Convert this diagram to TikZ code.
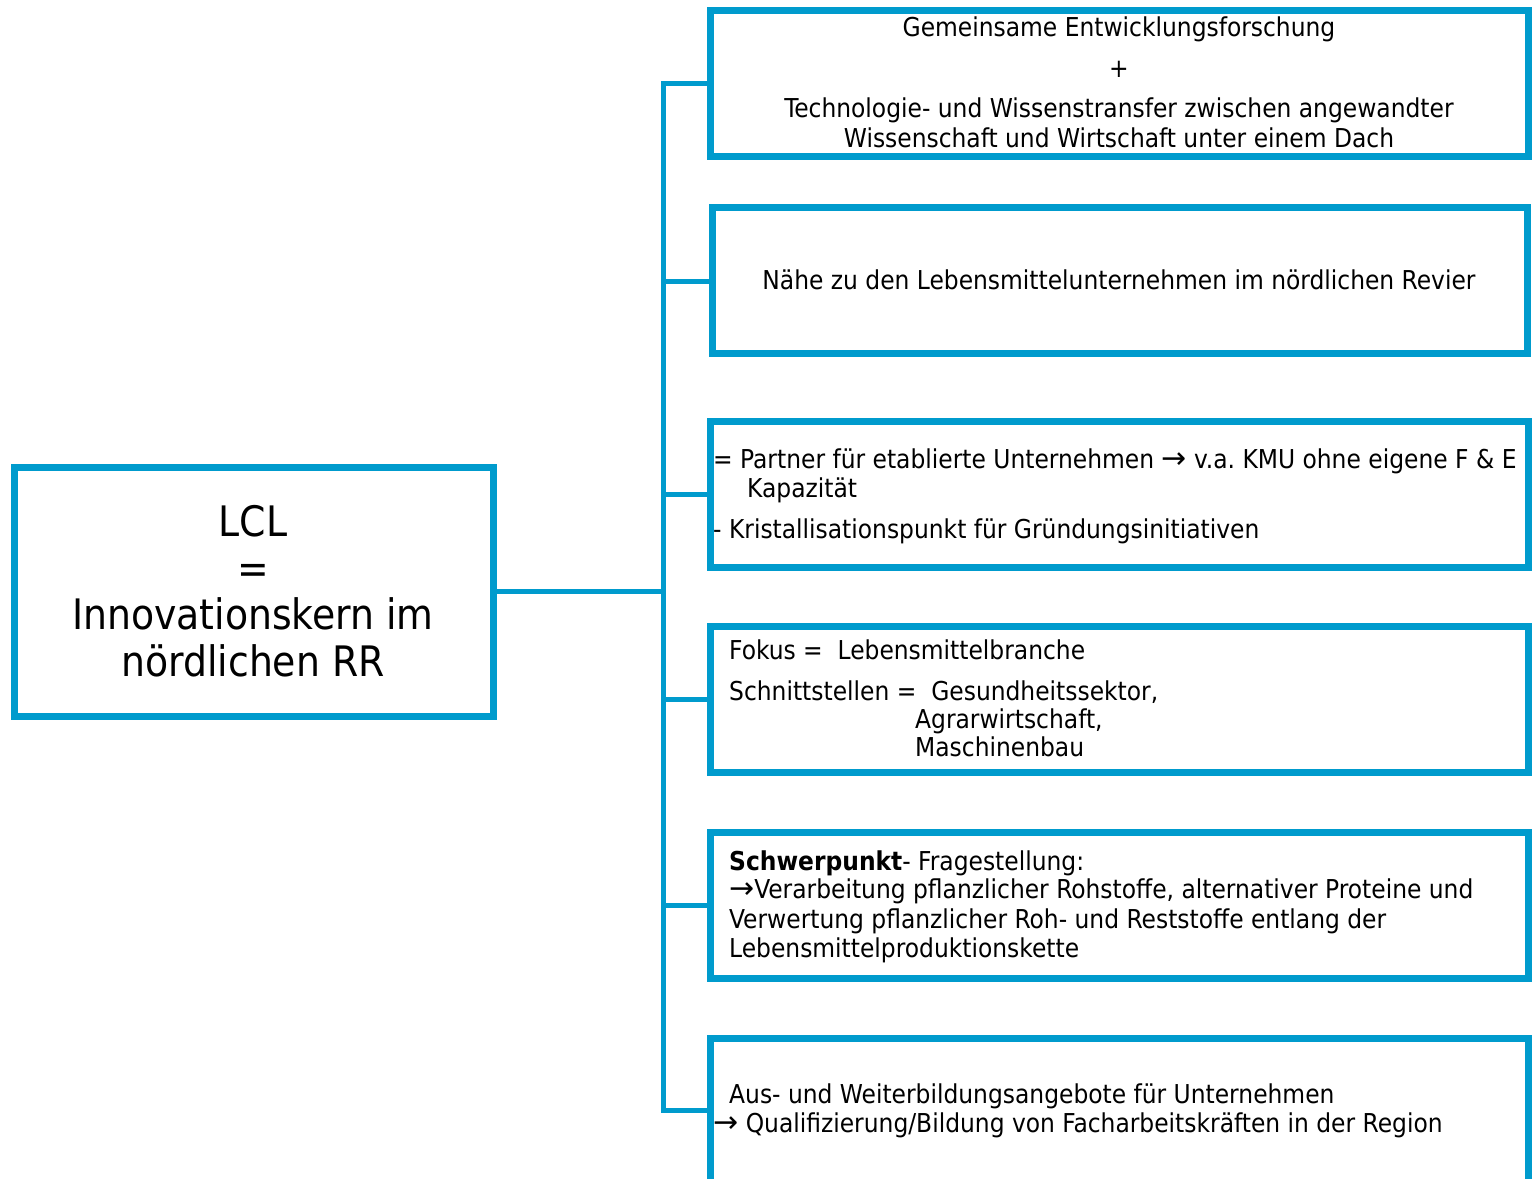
\documentclass[tikz,border=0pt]{standalone}
\usepackage{fontspec}
\setmainfont{DejaVu Sans Condensed}[BoldFont={DejaVu Sans Condensed Bold}]
\newfontfamily\arrowfont{DejaVu Sans}
\newcommand{\rarr}{{\arrowfont\fontsize{30}{30}\selectfont →}}
\definecolor{lclblue}{RGB}{0,155,205}
\frenchspacing
\begin{document}
\begin{tikzpicture}[x=1pt,y=-1pt,
  box/.style={draw=lclblue,line width=7pt,rectangle,inner sep=0pt},
  conn/.style={draw=lclblue,line width=5pt},
  txt/.style={inner sep=0pt,font=\fontsize{26}{30}\selectfont},
  txtl/.style={txt,anchor=base west},
  txtc/.style={txt,anchor=base},
  big/.style={inner sep=0pt,anchor=base,font=\fontsize{42}{47}\selectfont}]
\useasboundingbox (0,0) rectangle (1534,1178);
% boxes
\node[box,minimum width=479pt,minimum height=249pt] (main) at (253.5,591.5) {};
\node[box,minimum width=818pt,minimum height=146pt] (b1) at (1119,83) {};
\node[box,minimum width=815pt,minimum height=146pt] (b2) at (1119.5,280) {};
\node[box,minimum width=818pt,minimum height=146pt] (b3) at (1119,494) {};
\node[box,minimum width=818pt,minimum height=146pt] (b4) at (1119,699) {};
\node[box,minimum width=818pt,minimum height=146pt] (b5) at (1119,905) {};
\node[box,minimum width=818pt,minimum height=150pt] (b6) at (1119,1113) {};
% connectors
\coordinate (trunkTop) at (663,83);
\coordinate (trunkBot) at (663,1110);
\coordinate (mid) at (663,591);
\draw[conn] (main.east |- mid) -- (mid);
\draw[conn,line cap=rect] (trunkTop) -- (trunkBot);
\draw[conn] (trunkTop) -- (b1.west |- trunkTop);
\draw[conn] (663,281) -- (b2.west |- 0,281);
\draw[conn] (663,494) -- (b3.west |- 0,494);
\draw[conn] (663,699) -- (b4.west |- 0,699);
\draw[conn] (663,905) -- (b5.west |- 0,905);
\draw[conn] (trunkBot) -- (b6.west |- trunkBot);
% main text
\node[big] (m1) at (253,536) {LCL};
\node[big] (m2) at (253,583) {=};
\node[big] (m3) at (253,629) {Innovationskern im};
\node[big] (m4) at (253,676) {nördlichen RR};
% box 1
\node[txtc] (t11) at (1119,36) {Gemeinsame Entwicklungsforschung};
\node[txtc] (t12) at (1119,77) {+};
\node[txtc] (t13) at (1119,117) {Technologie- und Wissenstransfer zwischen angewandter};
\node[txtc] (t14) at (1119,147) {Wissenschaft und Wirtschaft unter einem Dach};
% box 2
\node[txtc] (t21) at (1119,289) {Nähe zu den Lebensmittelunternehmen im nördlichen Revier};
% box 3
\node[txtl] (t31) at (713,468) {= Partner für etablierte Unternehmen \rarr\ v.a. KMU ohne eigene F \& E};
\node[txtl] (t32) at (747,497) {Kapazität};
\node[txtl] (t33) at (713,538) {- Kristallisationspunkt für Gründungsinitiativen};
% box 4
\node[txtl] (t41) at (729,659) {Fokus =\ \ Lebensmittelbranche};
\node[txtl] (t42) at (729,700) {Schnittstellen =\ \ Gesundheitssektor,};
\node[txtl] (t43) at (915,728) {Agrarwirtschaft,};
\node[txtl] (t44) at (915,756) {Maschinenbau};
% box 5
\node[txtl] (t51) at (729,870) {\textbf{Schwerpunkt}- Fragestellung:};
\node[txtl] (t52) at (729,898) {\rarr Verarbeitung pflanzlicher Rohstoffe, alternativer Proteine und};
\node[txtl] (t53) at (729,928) {Verwertung pflanzlicher Roh- und Reststoffe entlang der};
\node[txtl] (t54) at (729,957) {Lebensmittelproduktionskette};
% box 6
\node[txtl] (t61) at (729,1103) {Aus- und Weiterbildungsangebote für Unternehmen};
\node[txtl] (t62) at (713,1132) {\rarr\ Qualifizierung/Bildung von Facharbeitskräften in der Region};
\end{tikzpicture}
\end{document}
